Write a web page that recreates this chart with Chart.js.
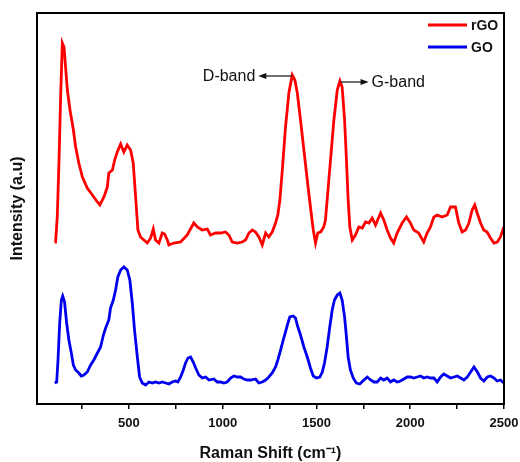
<!DOCTYPE html>
<html>
<head>
<meta charset="utf-8">
<script src="https://cdn.jsdelivr.net/npm/chart.js@4.4.1/dist/chart.umd.min.js"></script>
<style>
  html, body { margin: 0; padding: 0; background: #fff; }
  #wrap { width: 520px; height: 462px; }
</style>
</head>
<body>
<div id="wrap"><canvas id="c" width="520" height="462"></canvas></div>
<script>
// Raman 스펙트럼 — 그림에서 읽어낸 값 (x: cm-1, y: 임의 강도)
const rgoShift = [104, 109, 118, 127, 136, 145, 154, 172, 186, 204, 216, 233, 252, 278, 305, 332, 345, 367, 385, 393,
  412, 424, 438, 456, 473, 491, 509, 523, 536, 548, 562, 580, 598, 616, 630, 642, 660, 678, 690, 705,
  713, 740, 776, 811, 846, 865, 891, 918, 935, 962, 989, 1015, 1033, 1051, 1078, 1104, 1122, 1140, 1158, 1175,
  1193, 1211, 1229, 1246, 1264, 1282, 1294, 1305, 1318, 1335, 1353, 1371, 1385, 1398, 1415, 1433, 1451, 1468, 1483, 1495,
  1507, 1522, 1539, 1548, 1557, 1575, 1593, 1611, 1625, 1637, 1650, 1660, 1669, 1678, 1691, 1708, 1726, 1744, 1762, 1780,
  1797, 1815, 1833, 1842, 1859, 1877, 1895, 1912, 1930, 1957, 1980, 2001, 2019, 2045, 2072, 2090, 2108, 2126, 2144, 2170,
  2197, 2215, 2241, 2259, 2277, 2295, 2313, 2330, 2344, 2357, 2375, 2392, 2410, 2428, 2446, 2464, 2481, 2499];
const rgoIntensity = [161, 161, 186, 240, 306, 360, 356, 313, 293, 273, 256, 240, 226, 215, 208, 201, 198, 206, 216, 230,
  233, 243, 251, 259, 251, 258, 253, 240, 206, 173, 166, 163, 160, 165, 174, 163, 160, 170, 169, 163,
  158, 160, 161, 168, 180, 176, 173, 174, 168, 170, 170, 171, 168, 161, 160, 161, 163, 170, 173, 171,
  166, 158, 170, 166, 171, 180, 188, 203, 233, 276, 310, 328, 323, 310, 283, 253, 223, 196, 173, 160,
  170, 171, 176, 183, 203, 243, 283, 313, 322, 316, 283, 243, 203, 176, 163, 168, 176, 175, 181, 180,
  185, 178, 186, 190, 183, 173, 165, 160, 170, 180, 186, 180, 173, 170, 161, 170, 176, 186, 188, 186,
  188, 196, 196, 180, 171, 173, 180, 193, 198, 190, 180, 173, 171, 165, 160, 161, 166, 176];

const goShift = [104, 115, 122, 131, 140, 147, 157, 168, 180, 193, 204, 216, 233, 246, 260, 278, 296, 313, 332, 349,
  364, 376, 393, 402, 417, 429, 441, 456, 473, 491, 505, 518, 530, 545, 557, 571, 589, 607, 625, 642,
  660, 678, 696, 713, 731, 749, 761, 776, 790, 802, 815, 829, 843, 856, 873, 891, 909, 927, 953, 971,
  989, 1006, 1024, 1042, 1060, 1078, 1095, 1113, 1131, 1149, 1175, 1193, 1211, 1229, 1246, 1264, 1282, 1294, 1309, 1323,
  1335, 1348, 1358, 1376, 1388, 1401, 1415, 1433, 1451, 1468, 1483, 1500, 1518, 1531, 1543, 1557, 1571, 1584, 1596, 1611,
  1625, 1637, 1650, 1660, 1669, 1681, 1696, 1713, 1731, 1753, 1771, 1789, 1806, 1824, 1842, 1859, 1877, 1895, 1912, 1930,
  1948, 1966, 1984, 2001, 2019, 2037, 2055, 2072, 2090, 2108, 2126, 2144, 2162, 2179, 2197, 2215, 2233, 2251, 2269, 2286,
  2304, 2322, 2340, 2358, 2375, 2393, 2411, 2428, 2446, 2464, 2481, 2499];
const goIntensity = [20, 21, 43, 80, 103, 107, 101, 80, 63, 50, 38, 33, 30, 27, 28, 31, 38, 43, 50, 56,
  68, 75, 83, 95, 103, 113, 126, 133, 136, 133, 123, 100, 73, 46, 26, 20, 18, 21, 20, 21,
  20, 21, 20, 19, 21, 22, 21, 26, 33, 40, 45, 46, 41, 35, 28, 25, 26, 23, 24, 21,
  21, 20, 21, 25, 27, 26, 26, 24, 23, 23, 24, 20, 21, 23, 26, 30, 36, 43, 53, 63,
  71, 80, 86, 87, 85, 76, 68, 56, 46, 35, 27, 25, 26, 31, 40, 56, 76, 93, 103, 108,
  110, 103, 86, 66, 46, 33, 25, 20, 19, 23, 26, 23, 21, 21, 25, 23, 25, 21, 23, 21,
  22, 24, 26, 26, 25, 26, 27, 25, 26, 25, 25, 21, 26, 29, 27, 25, 26, 27, 25, 23,
  26, 31, 36, 31, 25, 22, 26, 27, 25, 22, 23, 20];

// x축: 눈금 표시 위치(보조 포함)와 라벨 붙는 값
const xTickValues = [250, 500, 750, 1000, 1250, 1500, 1750, 2000, 2250, 2500];
const xTickLabels = [500, 1000, 1500, 2000, 2500];

// 피크 화살표 주석: peak 위치에서 tip 방향으로 화살표
const bandNotes = [
  { text: 'D-band', peakX: 1371, peakY: 327, tipX: 1190 },
  { text: 'G-band', peakX: 1627, peakY: 321, tipX: 1778 },
];

const FONT = 'Arial, "Liberation Sans", sans-serif';
const toPoints = (xs, ys) => xs.map((x, i) => ({ x, y: ys[i] }));

const frameAndNotes = {
  id: 'frameAndNotes',
  afterDatasetsDraw(chart) {
    const { ctx, chartArea: a, scales: { x, y } } = chart;
    ctx.save();
    ctx.strokeStyle = '#000';
    ctx.lineWidth = 2;
    ctx.strokeRect(a.left, a.top, a.right - a.left, a.bottom - a.top);

    // 밴드 화살표
    ctx.lineWidth = 1.2;
    ctx.fillStyle = '#111';
    ctx.strokeStyle = '#111';
    ctx.font = '16px ' + FONT;
    ctx.textBaseline = 'middle';
    bandNotes.forEach((n) => {
      const px = x.getPixelForValue(n.peakX);
      const tx = x.getPixelForValue(n.tipX);
      const py = y.getPixelForValue(n.peakY);
      const dir = tx < px ? -1 : 1;
      ctx.beginPath();
      ctx.moveTo(px, py);
      ctx.lineTo(tx - dir * 6, py);
      ctx.stroke();
      ctx.beginPath();
      ctx.moveTo(tx, py);
      ctx.lineTo(tx - dir * 8, py - 3);
      ctx.lineTo(tx - dir * 8, py + 3);
      ctx.closePath();
      ctx.fill();
      ctx.textAlign = dir < 0 ? 'right' : 'left';
      ctx.fillText(n.text, tx + dir * 3, py + 1);
    });

    // 범례 (plot 안 오른쪽 위)
    ctx.font = 'bold 14px ' + FONT;
    ctx.textAlign = 'left';
    chart.data.datasets.forEach((ds, i) => {
      const ly = a.top + 12 + i * 22;
      ctx.strokeStyle = ds.borderColor;
      ctx.lineWidth = 2.8;
      ctx.beginPath();
      ctx.moveTo(a.right - 76, ly);
      ctx.lineTo(a.right - 37, ly);
      ctx.stroke();
      ctx.fillStyle = '#111';
      ctx.fillText(ds.label, a.right - 33, ly + 1);
    });
    ctx.restore();
  },
};

new Chart(document.getElementById('c'), {
  type: 'line',
  data: {
    datasets: [
      { label: 'rGO', data: toPoints(rgoShift, rgoIntensity), borderColor: '#ff0000', borderWidth: 2.8 },
      { label: 'GO', data: toPoints(goShift, goIntensity), borderColor: '#0000ee', borderWidth: 2.8 },
    ],
  },
  options: {
    responsive: false,
    animation: false,
    layout: { padding: { left: 10, top: 13, right: 16, bottom: 0 } },
    elements: { point: { radius: 0 }, line: { tension: 0 } },
    plugins: { legend: { display: false }, tooltip: { enabled: false } },
    scales: {
      x: {
        type: 'linear',
        min: 10,
        max: 2500,
        afterFit(s) { s.height = 58; s.paddingRight = 0; s.paddingLeft = 0; },
        afterBuildTicks(s) { s.ticks = xTickValues.map((v) => ({ value: v })); },
        border: { display: true, color: '#000', width: 2 },
        grid: { display: true, drawOnChartArea: false, drawTicks: true, tickLength: 5, color: '#000', lineWidth: 1.5 },
        ticks: {
          maxRotation: 0,
          autoSkip: false,
          padding: 7,
          color: '#111',
          font: { family: FONT, size: 13, weight: 'bold' },
          callback: (v) => (xTickLabels.includes(v) ? String(v) : ''),
        },
        title: {
          display: true,
          text: 'Raman Shift (cm⁻¹)',
          color: '#111',
          font: { family: FONT, size: 16, weight: 'bold', lineHeight: 1 },
          padding: { top: 4, bottom: 0 },
        },
      },
      y: {
        min: -1,
        max: 390,
        afterFit(s) { s.width = 27; },
        border: { display: true, color: '#000', width: 2 },
        grid: { display: false },
        ticks: { display: false },
        title: {
          display: true,
          text: 'Intensity (a.u)',
          color: '#111',
          font: { family: FONT, size: 16, weight: 'bold', lineHeight: 1 },
          padding: { top: 0, bottom: 0 },
        },
      },
    },
  },
  plugins: [frameAndNotes],
});
</script>
</body>
</html>
